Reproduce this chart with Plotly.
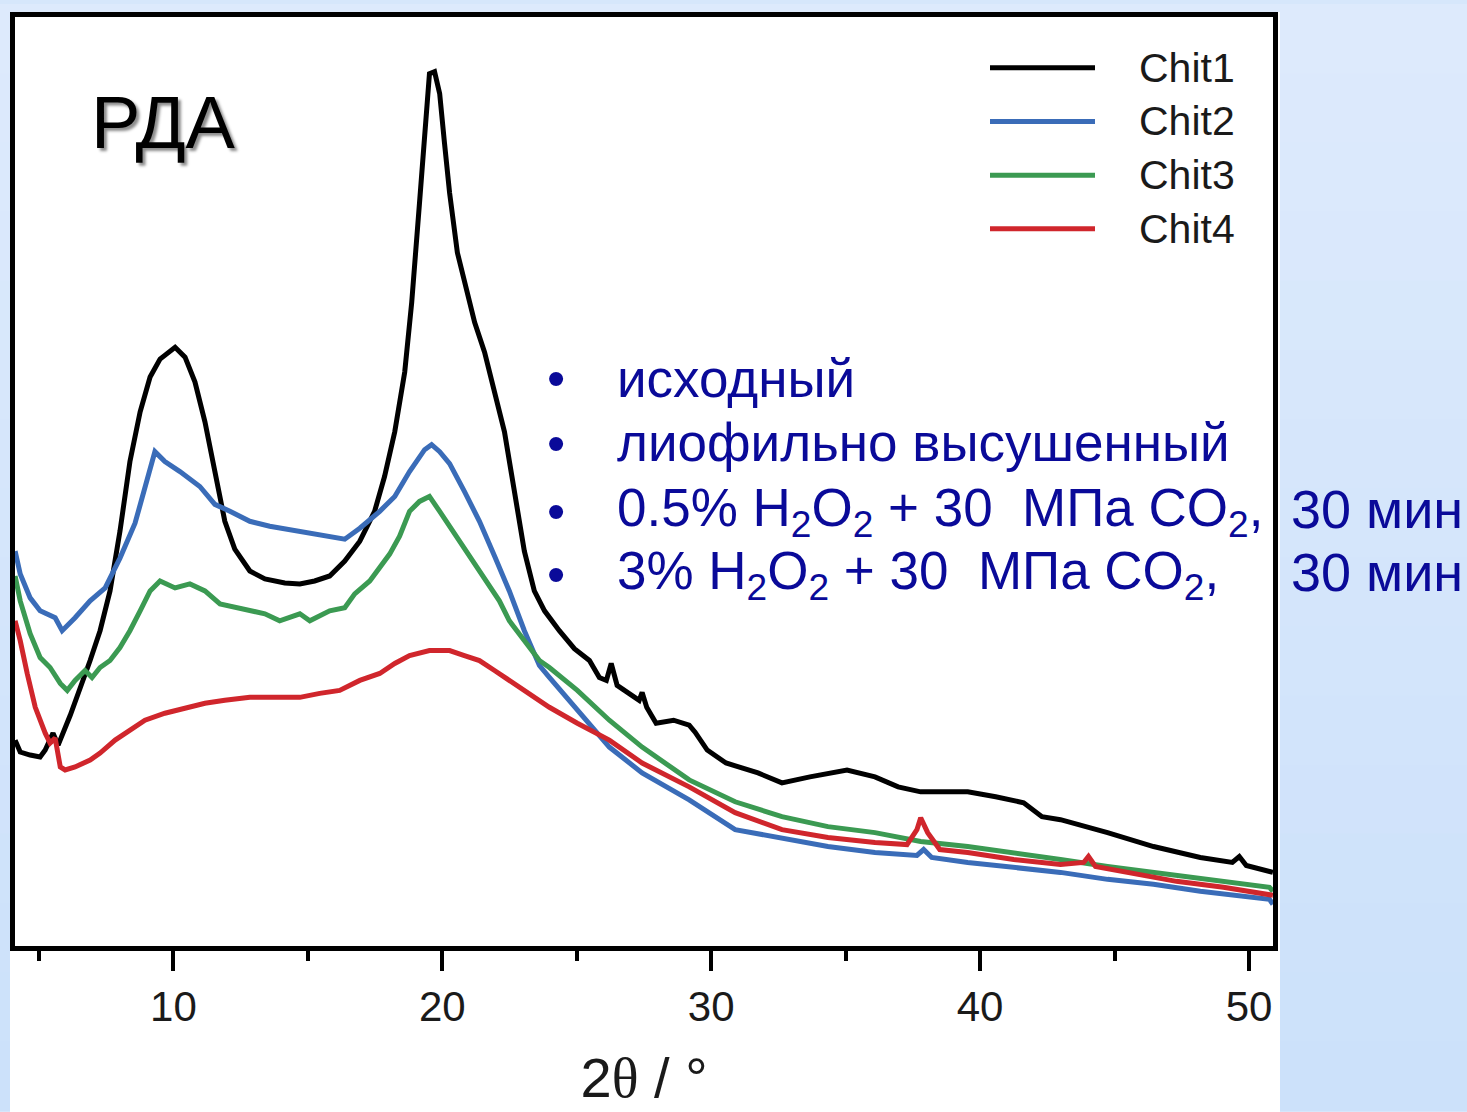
import plotly.graph_objects as go

# ---------------- data ----------------
series_names = ["Chit1", "Chit2", "Chit3", "Chit4"]
series_colors = ["#000000", "#3a6cb8", "#3b9a52", "#d0262c"]

chit1_x = [4.11, 4.30, 4.67, 5.04, 5.23, 5.52, 5.71, 6.16, 6.90, 7.27, 7.64, 8.01, 8.38, 8.76, 9.13, 9.50,
           10.06, 10.43, 10.80, 11.17, 11.54, 11.91, 12.28, 12.84, 13.40, 14.14, 14.70, 15.25, 15.81, 16.37,
           16.93, 17.48, 17.85, 18.23, 18.60, 18.86, 19.15, 19.34, 19.52, 19.71, 19.90, 20.08, 20.27, 20.56,
           20.82, 21.20, 21.57, 21.94, 22.31, 22.68, 23.05, 23.42, 23.80, 24.35, 24.91, 25.47, 25.84, 26.10,
           26.28, 26.50, 27.10, 27.32, 27.43, 27.60, 27.95, 28.60, 29.18, 29.40, 29.85, 30.55, 31.74, 32.63,
           33.67, 35.05, 36.09, 36.95, 37.79, 39.54, 40.58, 41.62, 42.30, 42.99, 44.74, 46.45, 48.19, 49.38,
           49.64, 49.90, 50.89]
chit1_y = [210, 198, 195, 193, 200, 217, 205, 235, 290, 320, 360, 420, 490, 540, 575, 593,
           605, 595, 570, 530, 480, 430, 402, 380, 372, 368, 367, 370, 375, 390,
           410, 440, 475, 520, 580, 650, 750, 810, 880, 882, 860, 810, 760, 700,
           670, 630, 600, 560, 520, 460, 400, 360, 340, 320, 302, 290, 273, 270,
           287, 265, 255, 250, 258, 243, 227, 230, 225, 218, 200, 187, 177, 167,
           173, 180, 173, 163, 158, 158, 153, 147, 133, 130, 117, 103, 92, 87,
           93, 84, 77]

chit2_x = [4.11, 4.30, 4.67, 5.04, 5.60, 5.86, 6.34, 6.90, 7.46, 8.01, 8.57, 9.13, 9.31, 9.68, 10.24,
           10.98, 11.54, 12.10, 12.84, 13.58, 14.70, 15.63, 16.37, 16.93, 17.67, 18.23, 18.78, 19.34,
           19.60, 19.90, 20.27, 20.82, 21.38, 21.94, 22.49, 23.05, 23.61, 23.98, 25.02, 26.21, 27.43,
           29.18, 30.89, 32.63, 34.34, 36.09, 37.65, 37.90, 38.20, 39.54, 41.25, 42.99, 44.74, 46.45,
           48.19, 50.76, 50.89]
chit2_y = [400, 377, 353, 340, 333, 320, 333, 350, 363, 393, 428, 485, 500, 490, 480,
           465, 447, 440, 430, 425, 420, 415, 412, 423, 440, 455, 480, 502,
           507, 500, 488, 460, 430, 395, 360, 320, 285, 273, 240, 203, 177,
           150, 120, 112, 103, 97, 94, 100, 92, 87, 82, 77, 70, 65,
           58, 50, 45]

chit3_x = [4.11, 4.30, 4.67, 5.04, 5.41, 5.79, 6.05, 6.34, 6.71, 6.97, 7.27, 7.64, 8.01, 8.38, 8.76,
           9.13, 9.50, 10.06, 10.61, 11.17, 11.73, 12.47, 13.40, 13.95, 14.70, 15.07, 15.81, 16.37,
           16.74, 17.30, 18.04, 18.41, 18.78, 19.15, 19.52, 19.90, 20.27, 20.64, 21.01, 21.38, 21.75,
           22.12, 22.49, 23.05, 23.61, 23.98, 25.02, 26.21, 27.43, 29.18, 30.89, 32.63, 34.34, 36.09,
           37.79, 39.54, 41.25, 42.99, 44.74, 46.45, 48.19, 50.76, 50.89]
chit3_y = [375, 350, 317, 293, 283, 267, 260, 270, 280, 273, 283, 290, 303, 320, 340,
           360, 370, 363, 367, 360, 347, 343, 337, 330, 337, 330, 340, 343,
           357, 370, 397, 415, 440, 450, 455, 440, 425, 410, 395, 380, 365,
           350, 330, 310, 290, 283, 260, 230, 203, 170, 148, 133, 123, 117,
           108, 103, 97, 90, 83, 77, 70, 62, 58]

chit4_x = [4.11, 4.30, 4.56, 4.86, 5.23, 5.41, 5.60, 5.79, 5.97, 6.34, 6.90, 7.27, 7.83, 8.38, 8.94,
           9.68, 10.43, 11.17, 11.91, 12.84, 13.95, 14.70, 15.44, 16.18, 16.93, 17.67, 18.23, 18.78,
           19.52, 20.27, 20.82, 21.38, 21.94, 22.49, 23.05, 23.61, 23.98, 25.02, 26.21, 27.43, 29.18,
           30.89, 32.63, 34.34, 36.09, 37.28, 37.65, 37.79, 38.05, 38.50, 39.54, 41.25, 42.99, 43.85,
           44.03, 44.29, 45.59, 47.30, 49.05, 50.76, 50.89]
chit4_y = [330, 310, 277, 243, 217, 207, 212, 183, 180, 183, 190, 197, 210, 220, 230,
           237, 242, 247, 250, 253, 253, 253, 257, 260, 270, 277, 287, 295,
           300, 300, 295, 290, 280, 270, 260, 250, 243, 227, 210, 187, 163,
           137, 120, 112, 107, 105, 120, 132, 117, 100, 97, 90, 85, 87,
           93, 83, 77, 68, 62, 55, 54]

x_tick_values = [10, 20, 30, 40, 50]
x_minor_values = [5, 15, 25, 35, 45]
x_title = "2<span style='font-family:Liberation Serif, Times New Roman, serif'>θ</span> / °"
panel_label = "РДА"
bullet_lines = [
    "исходный",
    "лиофильно высушенный",
    "0.5% H<sub>2</sub>O<sub>2</sub> + 30\u00a0 МПа CO<sub>2</sub>,",
    "3% H<sub>2</sub>O<sub>2</sub> + 30\u00a0 МПа CO<sub>2</sub>,",
]
time_lines = ["30 мин", "30 мин"]

# ---------------- figure ----------------
W, H = 1467, 1112
L, R, T, B = 15, 194, 13, 165
PW, PH = W - L - R, H - T - B


def px(xp):
    return (xp - L) / PW


def py(yp):
    return (H - B - yp) / PH


FONT = "Liberation Sans, Arial, sans-serif"

fig = go.Figure()
all_x = [chit1_x, chit2_x, chit3_x, chit4_x]
all_y = [chit1_y, chit2_y, chit3_y, chit4_y]
for name, xs, ys, col in zip(series_names, all_x, all_y, series_colors):
    fig.add_trace(go.Scatter(x=xs, y=ys, mode="lines", name=name,
                             line=dict(color=col, width=5), showlegend=False))

shapes = []
# background gradient bands (slide background)
n_bands = 16
c_top = (221, 234, 252)
c_bot = (204, 225, 250)
for i in range(n_bands):
    f = i / (n_bands - 1)
    c = tuple(round(a + (b - a) * f) for a, b in zip(c_top, c_bot))
    shapes.append(dict(type="rect", xref="paper", yref="paper",
                       x0=px(-5), x1=px(W + 5),
                       y0=py(H * (i + 1) / n_bands + 1), y1=py(H * i / n_bands),
                       fillcolor="rgb(%d,%d,%d)" % c, line=dict(width=0), layer="below"))
# white panel
shapes.append(dict(type="rect", xref="paper", yref="paper",
                   x0=px(10), x1=px(1280), y0=py(H + 5), y1=py(8),
                   fillcolor="white", line=dict(width=0), layer="below"))

# custom legend lines
leg_y = [64, 118, 172, 226]
annotations = []
for name, col, yy in zip(series_names, series_colors, leg_y):
    shapes.append(dict(type="line", xref="paper", yref="paper",
                       x0=px(990), x1=px(1095), y0=py(yy), y1=py(yy),
                       line=dict(color=col, width=5)))
    annotations.append(dict(text=name, xref="paper", yref="paper", x=px(1137), y=py(yy),
                            xanchor="left", yanchor="middle", showarrow=False,
                            font=dict(family=FONT, size=41, color="#1a1a1a")))

# panel label
annotations.append(dict(text=panel_label, xref="paper", yref="paper", x=px(89), y=py(119),
                        xanchor="left", yanchor="middle", showarrow=False,
                        font=dict(family=FONT, size=74, color="#000000",
                                  shadow="3px 3px 3px rgba(0,0,0,0.45)")))

# bullet list
line_y = [376, 441, 510, 573]
BLUE = "#0a0a99"
for txt, yy in zip(bullet_lines, line_y):
    annotations.append(dict(text="•", xref="paper", yref="paper", x=px(556), y=py(yy),
                            xanchor="center", yanchor="middle", showarrow=False,
                            font=dict(family=FONT, size=52, color=BLUE)))
    annotations.append(dict(text=txt, xref="paper", yref="paper", x=px(615), y=py(yy),
                            xanchor="left", yanchor="middle", showarrow=False,
                            font=dict(family=FONT, size=53, color=BLUE)))
for txt, yy in zip(time_lines, [508, 571]):
    annotations.append(dict(text=txt, xref="paper", yref="paper", x=px(1289), y=py(yy),
                            xanchor="left", yanchor="middle", showarrow=False,
                            font=dict(family=FONT, size=54, color=BLUE)))

fig.update_layout(
    width=W, height=H,
    margin=dict(l=L, r=R, t=T, b=B, pad=0),
    paper_bgcolor="#d6e7fb",
    plot_bgcolor="white",
    showlegend=False,
    shapes=shapes,
    annotations=annotations,
    xaxis=dict(range=[4.106, 50.893], showline=True, linewidth=5, linecolor="black", mirror=True,
               ticks="outside", ticklen=20, tickwidth=4, tickcolor="black",
               tickvals=x_tick_values, ticktext=[str(v) for v in x_tick_values],
               minor=dict(ticks="outside", ticklen=10, tickwidth=4, tickcolor="black",
                          tickvals=x_minor_values),
               showgrid=False, zeroline=False,
               tickfont=dict(family=FONT, size=42, color="#1a1a1a"),
               title=dict(text=x_title, standoff=30,
                          font=dict(family=FONT, size=56, color="#1a1a1a"))),
    yaxis=dict(range=[3, 937], showline=True, linewidth=5, linecolor="black", mirror=True,
               ticks="", showticklabels=False, showgrid=False, zeroline=False),
)

fig.write_html("out.html")
